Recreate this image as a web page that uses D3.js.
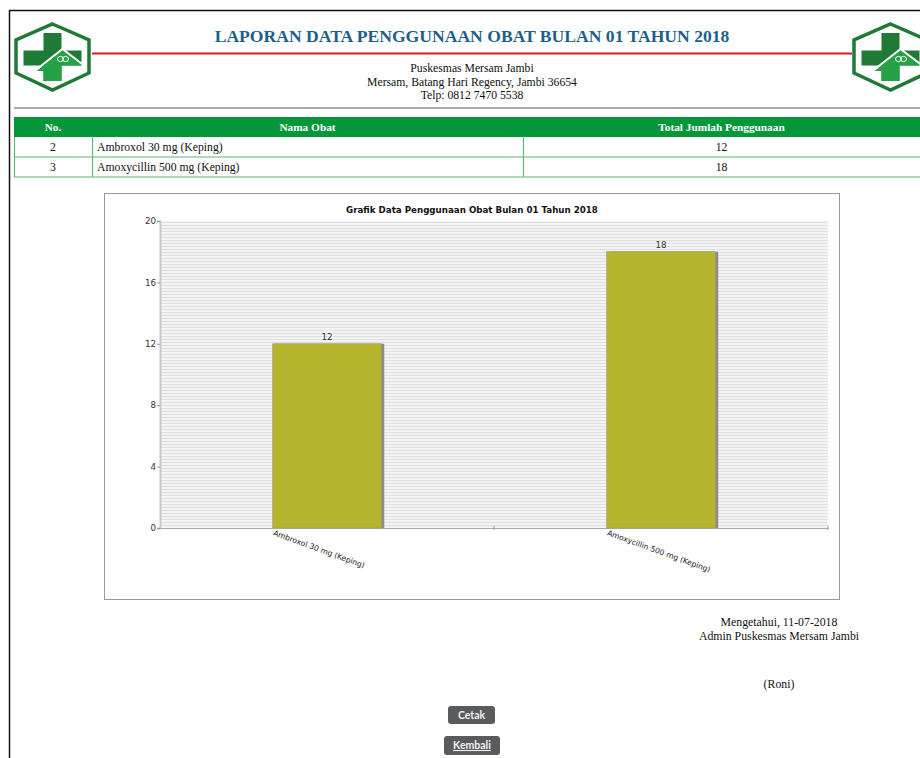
<!DOCTYPE html>
<html>
<head>
<meta charset="utf-8">
<script src="https://cdn.jsdelivr.net/npm/d3@7"></script>
<style>
  html, body { margin: 0; padding: 0; background: #fff; }
  svg { display: block; }
</style>
</head>
<body>
<div id="page"></div>
<script>
// Report content
const reportTitle = "LAPORAN DATA PENGGUNAAN OBAT BULAN 01 TAHUN 2018";
const addressLines = ["Puskesmas Mersam Jambi", "Mersam, Batang Hari Regency, Jambi 36654", "Telp: 0812 7470 5538"];
const tableHeaders = ["No.", "Nama Obat", "Total Jumlah Penggunaan"];
const rowNumbers = ["2", "3"];
const categories = ["Ambroxol 30 mg (Keping)", "Amoxycillin 500 mg (Keping)"];
const usageValues = [12, 18];
const yTicks = [0, 4, 8, 12, 16, 20];
const chartTitle = "Grafik Data Penggunaan Obat Bulan 01 Tahun 2018";
const signLines = ["Mengetahui, 11-07-2018", "Admin Puskesmas Mersam Jambi"];
const signName = "(Roni)";
const buttonLabels = ["Cetak", "Kembali"];

const W = 920, H = 758;
const serif = "'Liberation Serif', 'DejaVu Serif', serif";
const sans = "'DejaVu Sans', sans-serif";

const svg = d3.select("#page").append("svg").attr("width", W).attr("height", H);
const defs = svg.append("defs");

// Page frame
svg.append("line").attr("x1", 9).attr("x2", W).attr("y1", 10.5).attr("y2", 10.5)
  .attr("stroke", "#111").attr("stroke-width", 1.5);
svg.append("line").attr("x1", 9.5).attr("x2", 9.5).attr("y1", 10).attr("y2", H)
  .attr("stroke", "#111").attr("stroke-width", 1.5);

// Health-centre logo (hexagon with cross and house)
function logo(g) {
  const hex = [[0, -33], [36.5, -17], [36.5, 16], [0, 33], [-36.5, 16], [-36.5, -17]];
  g.append("polygon").attr("points", hex.map(p => p.join(",")).join(" "))
    .attr("fill", "#fff").attr("stroke", "#1f7a36").attr("stroke-width", 3.5);
  // cross
  g.append("rect").attr("x", -9).attr("y", -24).attr("width", 18).attr("height", 48).attr("fill", "#1f7a36");
  g.append("rect").attr("x", -29).attr("y", -6.5).attr("width", 58).attr("height", 15).attr("fill", "#1f7a36");
  // house lower part in brighter green
  g.append("polygon").attr("points", "-16,14 10,-7 29,7 29,8.5 9,8.5 9,24 -9,24 -9,14")
    .attr("fill", "#25a246");
  g.append("polyline").attr("points", "-18,14 10,-8 31,8")
    .attr("fill", "none").attr("stroke", "#fff").attr("stroke-width", 2);
  g.append("ellipse").attr("cx", 8).attr("cy", 2).attr("rx", 3).attr("ry", 2.6)
    .attr("fill", "none").attr("stroke", "#fff").attr("stroke-width", 1);
  g.append("ellipse").attr("cx", 13).attr("cy", 2).attr("rx", 3).attr("ry", 2.6)
    .attr("fill", "none").attr("stroke", "#fff").attr("stroke-width", 1);
}
logo(svg.append("g").attr("transform", "translate(52.5,57)"));
logo(svg.append("g").attr("transform", "translate(890.5,57)"));

// Header text
svg.append("text").attr("x", 472).attr("y", 42).attr("text-anchor", "middle")
  .attr("font-family", serif).attr("font-weight", "bold").attr("font-size", 17.6)
  .attr("fill", "#1c5f8e").text(reportTitle);
svg.append("line").attr("x1", 92).attr("x2", 852).attr("y1", 53.5).attr("y2", 53.5)
  .attr("stroke", "#e01818").attr("stroke-width", 2.2);
svg.selectAll("text.addr").data(addressLines).join("text").attr("class", "addr")
  .attr("x", 472).attr("y", (d, i) => 72 + i * 13.5).attr("text-anchor", "middle")
  .attr("font-family", serif).attr("font-size", 11.7).attr("fill", "#111").text(d => d);
svg.append("line").attr("x1", 14).attr("x2", W).attr("y1", 108).attr("y2", 108)
  .attr("stroke", "#a8a8a8").attr("stroke-width", 2);

// Usage table
const colEdges = [14, 92, 523, 920];
const tableTop = 117, headH = 20, rowH = 20;
svg.append("rect").attr("x", 14).attr("y", tableTop).attr("width", W - 14).attr("height", headH).attr("fill", "#03973a");
const colCenters = colEdges.slice(0, 3).map((x, i) => (x + colEdges[i + 1]) / 2);
svg.selectAll("text.th").data(tableHeaders).join("text").attr("class", "th")
  .attr("x", (d, i) => colCenters[i]).attr("y", tableTop + 14).attr("text-anchor", "middle")
  .attr("font-family", serif).attr("font-weight", "bold").attr("font-size", 11.3)
  .attr("fill", "#fff").text(d => d);
const rows = categories.map((c, i) => ({ no: rowNumbers[i], name: c, val: usageValues[i] }));
const rowG = svg.selectAll("g.row").data(rows).join("g").attr("class", "row")
  .attr("transform", (d, i) => `translate(0,${tableTop + headH + i * rowH})`);
rowG.append("line").attr("x1", 14).attr("x2", W).attr("y1", rowH).attr("y2", rowH)
  .attr("stroke", "#5cb874").attr("stroke-width", 1.2);
rowG.selectAll("line.v").data(colEdges.slice(0, 3)).join("line").attr("class", "v")
  .attr("x1", d => d + 0.5).attr("x2", d => d + 0.5).attr("y1", 0).attr("y2", rowH)
  .attr("stroke", "#5cb874").attr("stroke-width", 1.2);
rowG.append("text").attr("x", colCenters[0]).attr("y", 14).attr("text-anchor", "middle")
  .attr("font-family", serif).attr("font-size", 11.7).attr("fill", "#111").text(d => d.no);
rowG.append("text").attr("x", 97).attr("y", 14)
  .attr("font-family", serif).attr("font-size", 11.7).attr("fill", "#111").text(d => d.name);
rowG.append("text").attr("x", colCenters[2]).attr("y", 14).attr("text-anchor", "middle")
  .attr("font-family", serif).attr("font-size", 11.7).attr("fill", "#111").text(d => d.val);

// Chart frame
svg.append("rect").attr("x", 104.5).attr("y", 193.5).attr("width", 735).attr("height", 406)
  .attr("fill", "#fff").attr("stroke", "#9a9a9a").attr("stroke-width", 1);
svg.append("text").attr("x", 472).attr("y", 213).attr("text-anchor", "middle")
  .attr("font-family", sans).attr("font-weight", "bold").attr("font-size", 8.7)
  .attr("fill", "#111").text(chartTitle);

const plot = { left: 160, right: 828, top: 221, bottom: 528 };
const x = d3.scaleBand().domain(categories).range([plot.left, plot.right])
  .paddingInner(0.675).paddingOuter(0.3375);
const y = d3.scaleLinear().domain([0, 20]).range([plot.bottom, plot.top]);

// Striped plot background
const pat = defs.append("pattern").attr("id", "stripes").attr("patternUnits", "userSpaceOnUse")
  .attr("width", 8).attr("height", 3);
pat.append("rect").attr("width", 8).attr("height", 3).attr("fill", "#f3f3f3");
pat.append("rect").attr("y", 0).attr("width", 8).attr("height", 1).attr("fill", "#e0e0e0");
svg.append("rect").attr("x", plot.left).attr("y", plot.top)
  .attr("width", plot.right - plot.left).attr("height", plot.bottom - plot.top)
  .attr("fill", "url(#stripes)");

// Axes
const yAxis = svg.append("g").attr("transform", `translate(${plot.left},0)`)
  .call(d3.axisLeft(y).tickValues(yTicks).tickSize(3).tickPadding(1));
yAxis.select(".domain").attr("stroke", "#c8c8c8").attr("stroke-width", 2);
yAxis.selectAll(".tick line").attr("stroke", "#999");
yAxis.selectAll(".tick text").attr("font-family", sans).attr("font-size", 8.7).attr("fill", "#333");

const xAxis = svg.append("g").attr("transform", `translate(0,${plot.bottom})`)
  .call(d3.axisBottom(x).tickSize(0).tickFormat(""));
xAxis.select(".domain").attr("stroke", "#aaa").attr("stroke-width", 1);
// category boundary ticks
const step = x.step();
const boundaries = categories.map((c, i) => x(c) + x.bandwidth() / 2 + step / 2);
xAxis.selectAll("line.bt").data(boundaries).join("line").attr("class", "bt")
  .attr("x1", d => d).attr("x2", d => d).attr("y1", -2).attr("y2", 2).attr("stroke", "#999");
xAxis.selectAll("text.cat").data(categories).join("text").attr("class", "cat")
  .attr("transform", d => `translate(${x(d)},${7}) rotate(20)`)
  .attr("text-anchor", "start")
  .attr("font-family", sans).attr("font-size", 7.6).attr("fill", "#222").text(d => d);

// Bars with right-side shadow
const bars = svg.selectAll("g.bar").data(rows).join("g").attr("class", "bar");
bars.append("rect").attr("x", d => x(d.name) + 3).attr("y", d => y(d.val))
  .attr("width", x.bandwidth()).attr("height", d => plot.bottom - y(d.val)).attr("fill", "#8d8d8d");
bars.append("rect").attr("x", d => x(d.name)).attr("y", d => y(d.val))
  .attr("width", x.bandwidth()).attr("height", d => plot.bottom - y(d.val))
  .attr("fill", "#b5b52e").attr("stroke", "#9a9a6a").attr("stroke-width", 0.6);
bars.append("text").attr("x", d => x(d.name) + x.bandwidth() / 2).attr("y", d => y(d.val) - 4)
  .attr("text-anchor", "middle").attr("font-family", sans).attr("font-size", 8.7)
  .attr("fill", "#333").text(d => d.val);

// Signature block
svg.selectAll("text.sign").data(signLines).join("text").attr("class", "sign")
  .attr("x", 779).attr("y", (d, i) => 626 + i * 13.5).attr("text-anchor", "middle")
  .attr("font-family", serif).attr("font-size", 11.8).attr("fill", "#111").text(d => d);
svg.append("text").attr("x", 779).attr("y", 688).attr("text-anchor", "middle")
  .attr("font-family", serif).attr("font-size", 11.8).attr("fill", "#111").text(signName);

// Buttons
const btnSpecs = [{ x: 448, y: 706, w: 47, h: 18 }, { x: 444, y: 736, w: 56, h: 19 }];
const btn = svg.selectAll("g.btn").data(buttonLabels).join("g").attr("class", "btn")
  .attr("transform", (d, i) => `translate(${btnSpecs[i].x},${btnSpecs[i].y})`);
btn.append("rect").attr("width", (d, i) => btnSpecs[i].w).attr("height", (d, i) => btnSpecs[i].h)
  .attr("rx", 3).attr("fill", "#595b5f");
btn.append("text").attr("x", (d, i) => btnSpecs[i].w / 2).attr("y", 13).attr("text-anchor", "middle")
  .attr("font-family", "Lato, 'Open Sans', sans-serif").attr("font-weight", "bold").attr("font-size", 10.5)
  .attr("fill", "#f2f2f2").attr("text-decoration", (d, i) => i === 1 ? "underline" : null).text(d => d);
</script>
</body>
</html>
